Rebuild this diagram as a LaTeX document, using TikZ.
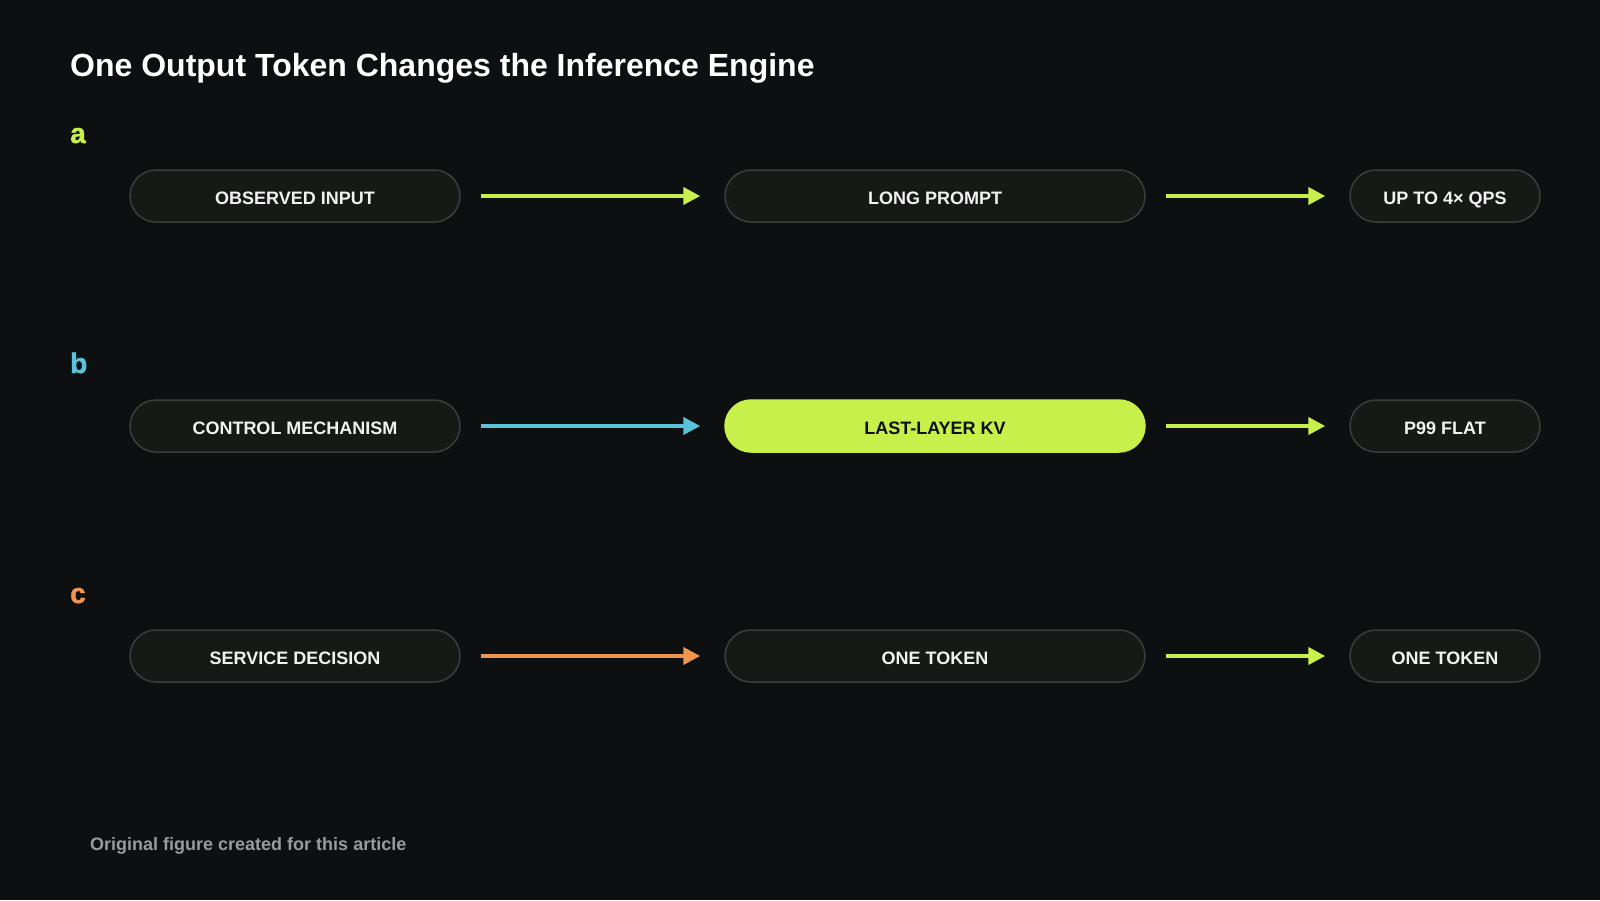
\documentclass[tikz,border=0pt]{standalone}
\usepackage{fontspec}
\setmainfont{Liberation Sans}
\newfontfamily\heavyfont[FakeBold=1.6]{Liberation Sans Bold}
\usetikzlibrary{arrows.meta}
\definecolor{bg}{HTML}{0E0F11}
\definecolor{boxfill}{HTML}{171917}
\definecolor{boxline}{HTML}{3C3E3C}
\definecolor{lime}{HTML}{C8F04A}
\definecolor{cyanc}{HTML}{5BC3D9}
\definecolor{orangec}{HTML}{F0954E}
\definecolor{txt}{HTML}{F2F2F2}
\definecolor{foot}{HTML}{9B9B9B}
\tikzset{
  pill/.style={draw=boxline, line width=1.5pt, fill=boxfill, rounded corners=26pt,
    minimum height=52pt, inner sep=0pt, text=txt,
    font=\fontsize{18}{18}\selectfont\bfseries, text height=16.5pt, text depth=0pt},
  hipill/.style={pill, draw=lime, fill=lime, text=bg},
  conn/.style={line width=4pt, -{Triangle[length=17pt,width=17pt]},
    shorten <=20pt, shorten >=24pt},
  rowlabel/.style={anchor=base west, inner sep=0pt, font=\fontsize{28}{28}\heavyfont},
}
\begin{document}
\begin{tikzpicture}[x=1pt,y=-1pt]
\fill[bg] (0,0) rectangle (1600,900);
\useasboundingbox (0,0) rectangle (1600,900);
\node[anchor=base west, inner sep=0pt, text=white, font=\fontsize{32}{32}\selectfont\bfseries] (title) at (70,76) {One Output Token Changes the Inference Engine};
% row a
\node[rowlabel, text=lime] (la) at (70,143) {a};
\node[pill, minimum width=330pt] (a1) at (295,196) {OBSERVED INPUT};
\node[pill, minimum width=420pt] (a2) at (935,196) {LONG PROMPT};
\node[pill, minimum width=190pt] (a3) at (1445,196) {UP TO 4× QPS};
\draw[conn, lime] (a1) -- (a2);
\draw[conn, lime] (a2) -- (a3);
% row b
\node[rowlabel, text=cyanc] (lb) at (70,373) {b};
\node[pill, minimum width=330pt] (b1) at (295,426) {CONTROL MECHANISM};
\node[hipill, minimum width=420pt] (b2) at (935,426) {LAST-LAYER KV};
\node[pill, minimum width=190pt] (b3) at (1445,426) {P99 FLAT};
\draw[conn, cyanc] (b1) -- (b2);
\draw[conn, lime] (b2) -- (b3);
% row c
\node[rowlabel, text=orangec] (lc) at (70,603) {c};
\node[pill, minimum width=330pt] (c1) at (295,656) {SERVICE DECISION};
\node[pill, minimum width=420pt] (c2) at (935,656) {ONE TOKEN};
\node[pill, minimum width=190pt] (c3) at (1445,656) {ONE TOKEN};
\draw[conn, orangec] (c1) -- (c2);
\draw[conn, lime] (c2) -- (c3);
\node[anchor=base west, inner sep=0pt, text=foot, font=\fontsize{18}{18}\selectfont\bfseries] (footer) at (90,850) {Original figure created for this article};
\end{tikzpicture}
\end{document}
